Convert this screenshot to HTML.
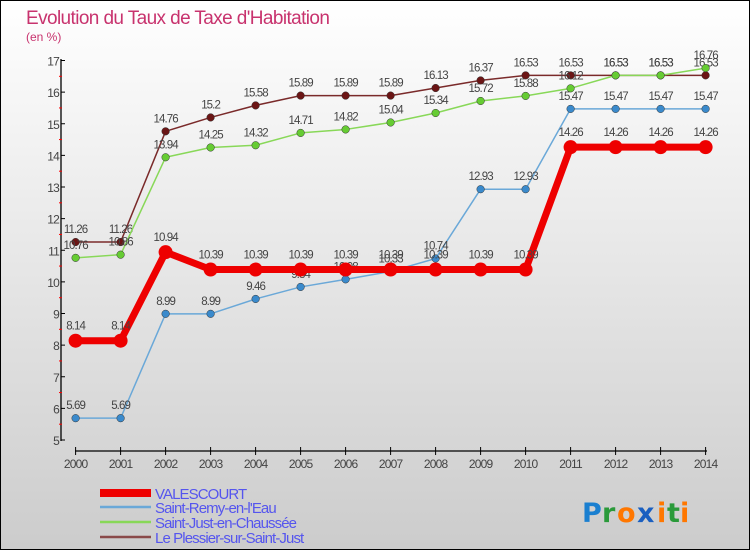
<!DOCTYPE html>
<html><head><meta charset="utf-8"><style>
body{margin:0;width:750px;height:550px;overflow:hidden}
svg{display:block;font-family:"Liberation Sans",sans-serif}
</style></head><body>
<svg id="chart" width="750" height="550" viewBox="0 0 750 550" xmlns="http://www.w3.org/2000/svg">
<defs><linearGradient id="bg" x1="0" y1="0" x2="0" y2="1"><stop offset="0" stop-color="#ffffff"/><stop offset="1" stop-color="#cccccc"/></linearGradient></defs>
<rect x="0.5" y="0.5" width="749" height="549" fill="url(#bg)" stroke="#000" stroke-width="1"/>
<text x="26" y="24" font-size="19" fill="#c8336e" letter-spacing="-0.6">Evolution du Taux de Taxe d'Habitation</text>
<text x="26" y="41" font-size="12" fill="#c8336e">(en %)</text>
<g id="axes"></g>
<g id="series"></g>
<g id="legend"></g>
<g font-size="27" font-weight="bold" font-family="'DejaVu Sans',sans-serif">
<text x="582" y="522" fill="#1a7fd0">P</text><text x="602" y="522" fill="#2a9a3a">r</text><text x="617" y="522" fill="#ff7700">o</text><text x="637" y="522" fill="#1a5fc0">x</text><text x="657" y="522" fill="#ff7700">i</text><text x="667" y="522" fill="#2a9a3a">t</text><text x="680" y="522" fill="#ff7700">i</text>
</g>
</svg>
<script>
const years=[2000,2001,2002,2003,2004,2005,2006,2007,2008,2009,2010,2011,2012,2013,2014];
const yTicks=[5,6,7,8,9,10,11,12,13,14,15,16,17];
const valescourt=[8.14,8.14,10.94,10.39,10.39,10.39,10.39,10.39,10.39,10.39,10.39,14.26,14.26,14.26,14.26];
const saintRemy=[5.69,5.69,8.99,8.99,9.46,9.84,10.08,10.33,10.74,12.93,12.93,15.47,15.47,15.47,15.47];
const saintJust=[10.76,10.86,13.94,14.25,14.32,14.71,14.82,15.04,15.34,15.72,15.88,16.12,16.53,16.53,16.76];
const plessier=[11.26,11.26,14.76,15.2,15.58,15.89,15.89,15.89,16.13,16.37,16.53,16.53,16.53,16.53,16.53];
const names=["VALESCOURT","Saint-Remy-en-l'Eau","Saint-Just-en-Chaussée","Le Plessier-sur-Saint-Just"];
const NS="http://www.w3.org/2000/svg";
const x=i=>75.6+i*(705.6-75.6)/(years.length-1);
const y=v=>440-(v-5)*(440-60.5)/12;
function mk(tag,attrs,parent){const e=document.createElementNS(NS,tag);for(const k in attrs)e.setAttribute(k,attrs[k]);parent.appendChild(e);return e;}
const ax=document.getElementById('axes');
let a=mk('line',{x1:61,y1:59,x2:61,y2:441,stroke:'#000','stroke-width':1.3},ax);


a=mk('line',{x1:75,y1:451,x2:707,y2:451,stroke:'#000','stroke-width':1.3},ax);


yTicks.forEach(t=>{
 mk('line',{x1:61,y1:y(t),x2:65,y2:y(t),stroke:'#000'},ax);
 if(t<17) mk('line',{x1:59,y1:y(t+0.5),x2:62,y2:y(t+0.5),stroke:'#f00'},ax);
 const tx=mk('text',{x:59,y:y(t)+5,'font-size':12,fill:'#444','text-anchor':'end','letter-spacing':'-0.8'},ax);
 
 
 tx.textContent=t;
});
years.forEach((yr,i)=>{
 mk('line',{x1:x(i),y1:447,x2:x(i),y2:455,stroke:'#000'},ax);
 const tx=mk('text',{x:x(i),y:468,'font-size':12,fill:'#444','text-anchor':'middle','letter-spacing':'-0.8'},ax);
 
 
 tx.textContent=yr;
});
const sg=document.getElementById('series');
const specs=[
 [plessier,'#7a2a2a','#6b1515',1.5,3.8],
 [saintJust,'#88d858','#66cc33',1.5,3.8],
 [saintRemy,'#6aa8d8','#3a8acc',1.5,3.8],
 [valescourt,'#ee0000','#ee0000',7,7]
];
const order=[3,2,1,0];
specs.forEach((s,k)=>{
 const [data,lc,pc,w,r]=s;
 const g=mk('g',{},sg);
 
 
 const p=mk('polyline',{points:data.map((v,i)=>x(i)+','+y(v)).join(' '),fill:'none',stroke:lc,'stroke-width':w,'stroke-linejoin':'round'},g);
 
 
 data.forEach((v,i)=>{
  const c=mk('circle',{cx:x(i),cy:y(v),r:r,fill:pc,stroke:k==3?'#ee0000':'#333','stroke-width':k==3?0:0.5},g);
  
  
  const t=mk('text',{x:x(i),y:y(v)-(k==3?11:9),'font-size':11.5,fill:'#444','text-anchor':'middle','letter-spacing':'-0.9'},g);
  
  
  t.textContent=v;
 });
});
const lg=document.getElementById('legend');
const lcol=['#ee0000','#6aa8d8','#88d858','#8a4a4a'];
const lw=[8,2.5,2.5,2.5];
const ly=[493,507,522,537];
names.forEach((n,i)=>{
 const l=mk('line',{x1:100,y1:ly[i],x2:151,y2:ly[i],stroke:lcol[i],'stroke-width':lw[i]},lg);
 
 
 const t=mk('text',{x:155,y:ly[i]+6,'font-size':15,fill:'#5555ee','letter-spacing':'-0.9'},lg);
 
 
 t.textContent=n;
});
</script>
</body></html>
